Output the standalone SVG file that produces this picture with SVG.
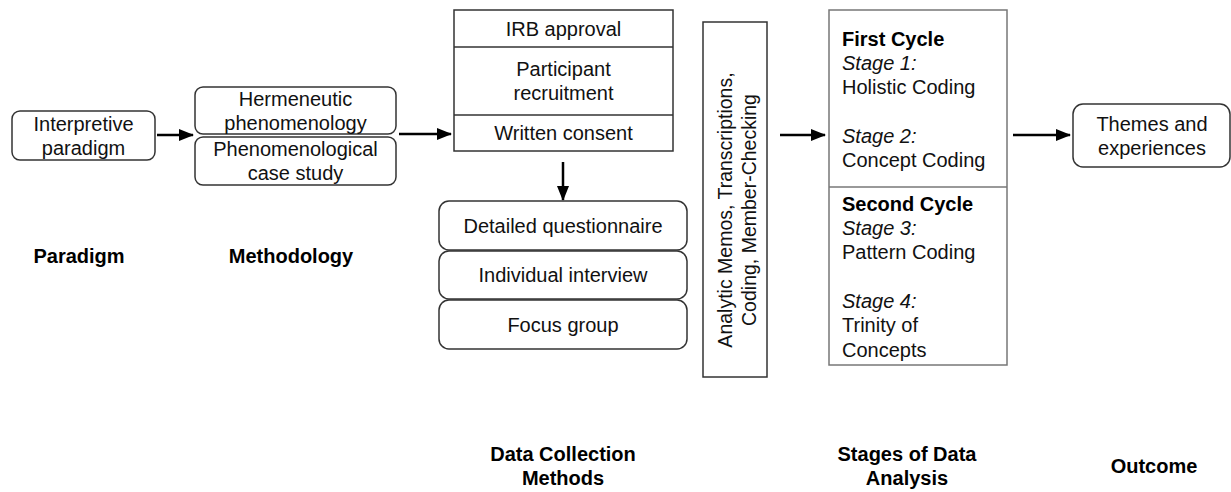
<svg xmlns="http://www.w3.org/2000/svg" width="1231" height="492" viewBox="0 0 1231 492">
<style>
text{font-family:"Liberation Sans",Arial,sans-serif;font-size:20px;fill:#111}
.c{text-anchor:middle}
.b{font-weight:bold;fill:#000}
.i{font-style:italic}
.r{font-size:19.5px}
.box{fill:#fff;stroke:#333;stroke-width:1.5}
.gbox{fill:#fff;stroke:#777;stroke-width:1.5}
.conn{stroke:#000;stroke-width:2.5;fill:none;marker-end:url(#ah)}
</style>
<defs>
<marker id="ah" markerUnits="userSpaceOnUse" markerWidth="15" markerHeight="12" refX="14" refY="6" orient="auto">
<path d="M0,0 L15,6 L0,12 Z" fill="#000"/>
</marker>
</defs>
<rect width="1231" height="492" fill="#fff"/>
<g id="connectors">
<line class="conn" x1="157" y1="135" x2="193" y2="135"/>
<line class="conn" x1="399" y1="134" x2="451" y2="134"/>
<line class="conn" x1="563" y1="162" x2="563" y2="200"/>
<line class="conn" x1="780" y1="135" x2="825" y2="135"/>
<line class="conn" x1="1013" y1="135" x2="1070" y2="135"/>
</g>
<g id="paradigm">
<rect class="box" x="12" y="111" width="143" height="49" rx="8"/>
<text class="c" x="83.5" y="131">Interpretive</text>
<text class="c" x="83.5" y="155">paradigm</text>
</g>
<g id="hermeneutic">
<rect class="box" x="195" y="87" width="201" height="47" rx="8"/>
<text class="c" x="295.5" y="106">Hermeneutic</text>
<text class="c" x="295.5" y="130">phenomenology</text>
</g>
<g id="casestudy">
<rect class="box" x="195" y="137" width="201" height="48" rx="8"/>
<text class="c" x="295.5" y="156">Phenomenological</text>
<text class="c" x="295.5" y="180">case study</text>
</g>
<g id="ethics">
<rect class="box" x="454" y="10" width="219" height="141"/>
<line class="box" x1="454" y1="47" x2="673" y2="47"/>
<line class="box" x1="454" y1="115" x2="673" y2="115"/>
<text class="c" x="563.5" y="36">IRB approval</text>
<text class="c" x="563.5" y="76">Participant</text>
<text class="c" x="563.5" y="100">recruitment</text>
<text class="c" x="563.5" y="140">Written consent</text>
</g>
<g id="questionnaire">
<rect class="box" x="439" y="201" width="248" height="49" rx="10"/>
<text class="c" x="563" y="233">Detailed questionnaire</text>
</g>
<g id="interview">
<rect class="box" x="439" y="251" width="248" height="48" rx="10"/>
<text class="c" x="563" y="282">Individual interview</text>
</g>
<g id="focusgroup">
<rect class="box" x="439" y="300" width="248" height="49" rx="10"/>
<text class="c" x="563" y="332">Focus group</text>
</g>
<g id="memos">
<rect class="box" x="703" y="22" width="64" height="355"/>
<text class="c r" transform="translate(735,210) rotate(-90)"><tspan x="0" y="-3">Analytic Memos, Transcriptions,</tspan><tspan x="0" y="21">Coding, Member-Checking</tspan></text>
</g>
<g id="stages">
<rect class="gbox" x="829" y="10" width="178" height="355"/>
<line class="gbox" x1="829" y1="187" x2="1007" y2="187"/>
<text class="b" x="842" y="46">First Cycle</text>
<text class="i" x="842" y="70">Stage 1:</text>
<text x="842" y="94">Holistic Coding</text>
<text class="i" x="842" y="143">Stage 2:</text>
<text x="842" y="167">Concept Coding</text>
<text class="b" x="842" y="211">Second Cycle</text>
<text class="i" x="842" y="235">Stage 3:</text>
<text x="842" y="259">Pattern Coding</text>
<text class="i" x="842" y="308">Stage 4:</text>
<text x="842" y="332">Trinity of</text>
<text x="842" y="357">Concepts</text>
</g>
<g id="outcome">
<rect class="box" x="1073" y="104" width="157" height="63" rx="10"/>
<text class="c" x="1152" y="131">Themes and</text>
<text class="c" x="1152" y="155">experiences</text>
</g>
<g id="labels">
<text class="c b" x="79" y="263">Paradigm</text>
<text class="c b" x="291" y="263">Methodology</text>
<text class="c b" x="563" y="461">Data Collection</text>
<text class="c b" x="563" y="485">Methods</text>
<text class="c b" x="907" y="461">Stages of Data</text>
<text class="c b" x="907" y="485">Analysis</text>
<text class="c b" x="1154" y="473">Outcome</text>
</g>
</svg>
